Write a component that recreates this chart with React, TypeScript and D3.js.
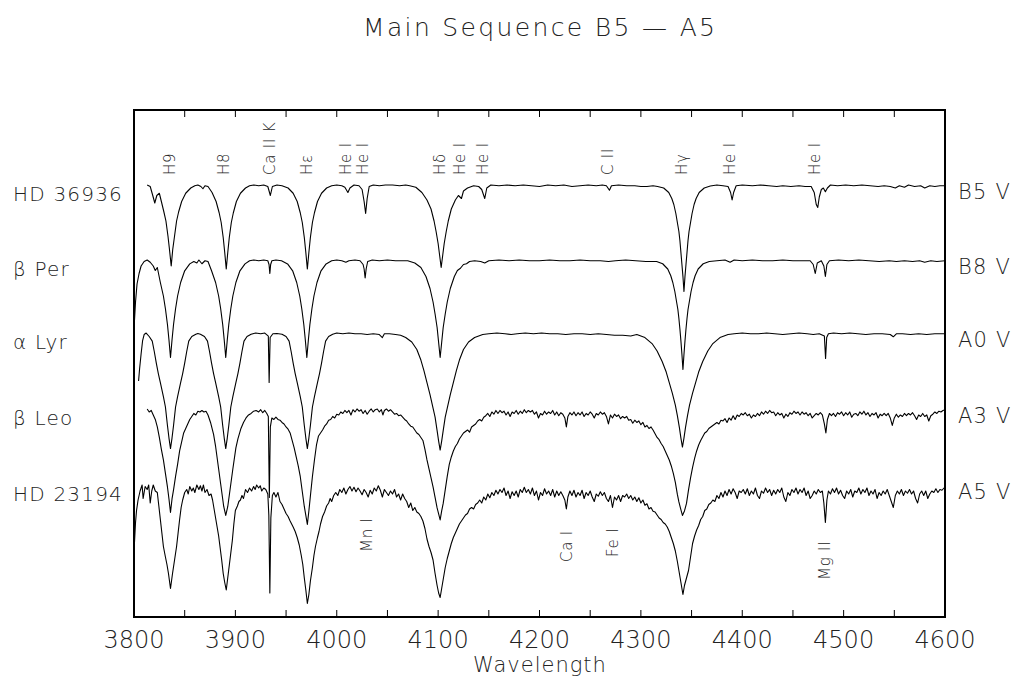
import React from "react";
import * as d3 from "d3";

// ---------- DATA ----------
const title = "Main Sequence B5 — A5";
const xLabel = "Wavelength";
const xDomain = [3800, 4600];
const majorTicks = [3800, 3900, 4000, 4100, 4200, 4300, 4400, 4500, 4600];
const minorTicks = [3850, 3900, 3950, 4000, 4050, 4100, 4150, 4200, 4250, 4300, 4350, 4400, 4450, 4500, 4550];

const starNames = ["HD 36936", "β Per", "α Lyr", "β Leo", "HD 23194"];
const spectralTypes = ["B5 V", "B8 V", "A0 V", "A3 V", "A5 V"];
// vertical offset of each normalized spectrum (flux %, continuum = 100)
const stackOffsets = [188, 138, 89.3, 38.7, -12];

const topLines = [
  { label: "H9", wl: 3835 },
  { label: "H8", wl: 3889 },
  { label: "Ca II K", wl: 3933.7 },
  { label: "Hε", wl: 3970 },
  { label: "He I", wl: 4009 },
  { label: "He I", wl: 4026 },
  { label: "Hδ", wl: 4101.7 },
  { label: "He I", wl: 4121 },
  { label: "He I", wl: 4144 },
  { label: "C II", wl: 4267 },
  { label: "Hγ", wl: 4340.5 },
  { label: "He I", wl: 4388 },
  { label: "He I", wl: 4471.5 },
];
const bottomLines = [
  { label: "Mn I", wl: 4030, base: 552 },
  { label: "Ca I", wl: 4226.7, base: 562 },
  { label: "Fe I", wl: 4271.8, base: 557 },
  { label: "Mg II", wl: 4481, base: 580 },
];

// [wavelength (Å), relative flux (%)]
const hd36936: [number, number][] = [
[3813,100],[3816,99],[3818.5,93],[3820.5,88],[3822.5,93],[3825,94.5],[3827,89],[3829.5,82],[3831.5,76],[3833.5,66],[3835,57],[3836.7,46],[3838.2,57],[3840,66],[3842,76],[3844,82],[3847,89],[3851,94.5],[3856,98],[3860,99.5],[3863,100],[3866,99],[3868,97.5],[3870,99.5],[3873,99],[3877,95],[3881,89],[3884,81.5],[3886,75],[3888,65],[3889.5,55],[3891,44],[3892.5,55],[3894,65],[3896,75],[3898,81.5],[3901,89],[3905,94.5],[3910,98],[3914,99.5],[3918,100],[3923,99.5],[3928,100],[3932,99],[3934.5,93],[3936.5,99],[3941,100],[3946,99.5],[3952,98],[3957,94.5],[3961,89],[3964,81.5],[3966,75],[3968,65],[3969.5,55],[3971,44],[3972.5,55],[3974,65],[3976,75],[3978,81.5],[3981,89],[3985,94.5],[3990,98],[3995,99.5],[4000,100],[4005,99.5],[4008,98.5],[4011,95],[4013,98],[4017,100],[4022,99.5],[4025,97],[4027,89],[4028.5,81],[4030,91],[4032,99],[4036,100],[4042,99.5],[4048,100],[4055,100],[4062,99.5],[4068,100],[4072,99.5],[4078,98.5],[4084,95],[4089,90],[4093,84],[4096,76],[4098,69],[4100,61],[4101.5,53],[4103,45],[4104.5,53],[4106,61],[4108,69],[4110,76],[4113,84],[4117,90],[4120,93],[4123,91],[4125,96],[4129,98],[4135,99.5],[4140,99],[4143,97],[4146,91],[4148,98],[4152,100],[4160,99.5],[4168,100],[4176,99.5],[4184,100],[4192,99.5],[4200,99],[4208,100],[4216,99.5],[4224,100],[4232,99],[4240,99.5],[4248,100],[4256,99.5],[4262,100],[4266,99.5],[4269,96.5],[4271,99.5],[4278,100],[4286,99.5],[4294,99.5],[4300,99],[4306,99],[4312,99.5],[4316.5,99],[4322.5,98],[4327.5,95],[4330.5,91],[4332.5,87],[4334.5,81],[4336.5,73],[4337.5,69],[4338.5,63],[4339.5,55],[4340.5,47],[4341.5,39],[4342.5,29],[4343.5,39],[4344.5,47],[4345.5,55],[4346.5,63],[4347.5,69],[4348.5,73],[4350.5,81],[4352.5,87],[4354.5,91],[4357.5,95],[4362.5,98],[4368.5,99.3],[4375,100],[4381,99.5],[4386,99],[4388.5,95],[4390,90],[4391.5,95],[4394,99.5],[4400,100],[4410,99.5],[4418,100],[4426,99.5],[4434,99],[4440,99.5],[4448,99],[4456,99.5],[4462,99],[4468,99],[4471,95],[4473,87],[4474.5,85],[4476,92],[4478,97],[4480,98],[4482,95.5],[4484,98],[4487,100],[4494,99.5],[4502,100],[4510,99.5],[4518,100],[4526,99.5],[4534,99],[4540,99.5],[4546,99],[4551,98],[4555,99.5],[4560,98.5],[4564,100],[4570,99],[4576,99.5],[4580,98],[4585,99.5],[4590,99],[4595,99.5],[4600,99.5]];

const betaPer: [number, number][] = [
[3800.5,60],[3801.5,72],[3803,84],[3805,91],[3807,96],[3810,99],[3813,100],[3816,98.5],[3819,96],[3821,93],[3823,95],[3826,85],[3829,76],[3831,67.5],[3833,57],[3834.5,46.7],[3836,35],[3837.5,46.7],[3839,57],[3841,67.5],[3843,76],[3846,85],[3850,92.8],[3855,97.4],[3859,99],[3862,98],[3864,100],[3867,97.5],[3870,99.5],[3873,99],[3876.5,92.8],[3880.5,85],[3883.5,76],[3885.5,67.5],[3887.5,57],[3889,46.7],[3890.5,35],[3892,46.7],[3893.5,57],[3895.5,67.5],[3897.5,76],[3900.5,85],[3904.5,92.8],[3909.5,97.4],[3914,99.5],[3918,100],[3923,99.5],[3928,100],[3932,99.5],[3933.2,97],[3934,91],[3934.8,97],[3936,99.5],[3940,100],[3945.5,99.5],[3951.5,97.4],[3956.5,92.8],[3960.5,85],[3963.5,76],[3965.5,67.5],[3967.5,57],[3969,46.7],[3970.5,35],[3972,46.7],[3973.5,57],[3975.5,67.5],[3977.5,76],[3980.5,85],[3984.5,92.8],[3989.5,97.4],[3995,99.5],[4000,100],[4005,99.5],[4009,98.5],[4012,99.5],[4018,100],[4023,99.5],[4026,97],[4027,94],[4028,88],[4029,94],[4030.5,99],[4035,100],[4042,99.5],[4050,100],[4058,99.5],[4066,99.5],[4070,99.5],[4077,98],[4083,95],[4088,89],[4092,81],[4095,72],[4097,64],[4099,55],[4100.5,45],[4102,35],[4103.5,45],[4105,55],[4107,64],[4109,72],[4112,81],[4116,89],[4119,93],[4122,94.5],[4125,97],[4128,97.5],[4131,99],[4136,99.5],[4142,99],[4146,98],[4150,99.5],[4160,100],[4170,99.5],[4180,100],[4190,99.5],[4200,99.5],[4210,100],[4220,99.5],[4230,99.5],[4240,100],[4250,99.5],[4260,99.5],[4268,99],[4275,99.5],[4285,100],[4295,99.5],[4305,99],[4315.5,99],[4321.5,97.5],[4326.5,94],[4329.5,89.5],[4331.5,85],[4333.5,79],[4335.5,71],[4336.5,67],[4337.5,61],[4338.5,54],[4339.5,46],[4340.5,37],[4341.5,27],[4342.5,37],[4343.5,46],[4344.5,54],[4345.5,61],[4346.5,67],[4347.5,71],[4349.5,79],[4351.5,85],[4353.5,89.5],[4356.5,94],[4361.5,97.5],[4367.5,99],[4375,99.5],[4383,100],[4388,98.5],[4392,100],[4400,99.5],[4410,100],[4420,99.5],[4430,99.5],[4440,100],[4450,99.5],[4460,99.5],[4467,99.5],[4470,97],[4472,91],[4474,98],[4478,99.5],[4480.5,96],[4482,89],[4483.5,97],[4486,99.5],[4495,100],[4505,99.5],[4515,100],[4525,99.5],[4535,99],[4545,99.5],[4552,99],[4560,99.5],[4568,99],[4575,99.5],[4580,98.5],[4586,99.5],[4592,99],[4600,99.5]];

const alphaLyr: [number, number][] = [
[3804.5,68],[3805.5,76],[3807,86],[3808.5,95],[3810,99],[3812,100],[3815,97.7],[3818,94.6],[3820,87.7],[3822,80],[3824,73],[3826,66.9],[3829,57.6],[3831,50.7],[3833,38.4],[3834.5,30],[3836,23],[3837.5,30],[3839,38.4],[3841,50.7],[3843,57.6],[3846,66.9],[3848,73],[3850,80],[3852,87.7],[3854,94.6],[3857,97.7],[3861,99.2],[3863,99.7],[3865.5,99.2],[3869.5,97.7],[3872.5,94.6],[3874.5,87.7],[3876.5,80],[3878.5,73],[3880.5,66.9],[3883.5,57.6],[3885.5,50.7],[3887.5,38.4],[3889,30],[3890.5,23],[3892,30],[3893.5,38.4],[3895.5,50.7],[3897.5,57.6],[3900.5,66.9],[3902.5,73],[3904.5,80],[3906.5,87.7],[3908.5,94.6],[3911.5,97.7],[3915.5,99.2],[3920,100],[3925,99.5],[3929,100],[3932.5,98],[3933.3,67],[3934.3,97],[3937,99.5],[3941,99.7],[3946,99.2],[3950,97.7],[3953,94.6],[3955,87.7],[3957,80],[3959,73],[3961,66.9],[3964,57.6],[3966,50.7],[3968,38.4],[3969.5,30],[3971,23],[3972.5,30],[3974,38.4],[3976,50.7],[3978,57.6],[3981,66.9],[3983,73],[3985,80],[3987,87.7],[3989,94.6],[3992,97.7],[3996,99.2],[4000,100],[4006,99.5],[4012,100],[4018,99.5],[4024,99.5],[4030,99],[4036,99.5],[4042,99],[4045,97],[4047,99.5],[4052,99.5],[4058,99],[4063,98.5],[4068,97],[4074,94],[4079,89],[4083,82],[4086,75],[4089,67],[4092,59],[4095,50],[4097,44],[4099,35],[4100.5,28],[4102,22],[4103.5,28],[4105,35],[4107,44],[4109,50],[4112,59],[4115,67],[4118,75],[4121,82],[4125,89],[4130,94],[4136,97],[4144,99],[4150,99.5],[4158,100],[4166,99.5],[4172,99],[4178,99.5],[4186,100],[4194,99.5],[4202,100],[4210,99.5],[4218,99.5],[4226,99],[4234,99.5],[4242,99.5],[4250,99],[4258,99.5],[4266,99],[4274,98.5],[4282,98.5],[4290,98],[4296,99],[4304,97],[4311,93],[4316,88],[4321,81],[4325,74],[4328,67],[4331,60],[4334,52],[4336,45],[4338,37],[4339.5,30],[4341,24],[4342.5,30],[4344,37],[4346,45],[4348,52],[4351,60],[4354,67],[4357,74],[4361,81],[4366,88],[4371,93],[4378,97],[4386,99],[4392,99.5],[4400,100],[4408,99.5],[4416,99.5],[4424,100],[4432,99.5],[4440,99],[4448,99.5],[4456,100],[4464,99.5],[4470,99],[4476,99.5],[4481,98],[4482.2,83],[4483.3,97],[4485,99.5],[4490,100],[4498,99.5],[4506,100],[4514,99.5],[4522,99],[4530,99.5],[4538,99.5],[4546,99],[4549,97.5],[4552,99.5],[4558,99.5],[4566,99],[4574,99.5],[4582,99],[4590,99.5],[4600,99.5]];

const betaLeo: [number, number][] = [
[3813,100],[3815,98],[3817,99],[3819,96],[3821,93],[3823,88],[3825,81],[3827,73],[3829,66],[3831,57],[3833,48],[3834.5,40],[3836,31],[3837.5,40],[3839,46],[3841,55],[3843,63],[3845,72],[3847,78],[3849,84],[3851,87],[3853,90],[3855,93],[3857,95],[3859,97],[3861,96],[3863,98.5],[3865,98],[3867,99],[3869,98],[3871,98.5],[3873,96],[3875.5,91],[3878.5,83],[3880.5,75],[3883.5,60],[3885.5,50],[3888.5,35],[3890.5,29],[3892.5,35],[3895.5,50],[3897.5,60],[3900.5,74],[3902.5,80],[3905.5,87],[3908,91],[3910.5,94],[3913,96],[3915.5,97],[3918,98.5],[3920.5,99],[3923,98],[3925,99.5],[3927,97.5],[3929,99],[3931,97],[3932.5,95],[3933.5,41],[3934.5,88],[3936,94],[3938,93],[3940,94.5],[3942,93],[3944,92.5],[3946,91],[3948,90],[3950,88],[3952,86.5],[3954,84],[3956,79],[3958,74],[3960,68],[3962,62],[3964,55],[3966,45],[3968,35],[3969.5,29],[3971,23],[3972.5,32],[3974,42],[3976,55],[3978,66],[3980,76],[3982,82],[3984,84],[3986,86],[3988,88.5],[3990,90],[3992,92.5],[3994,93],[3996,95],[3998,94],[4000,96.5],[4002,96],[4004,98],[4006,97],[4008,99],[4010,97.5],[4012,99],[4014,96],[4016,99.5],[4018,98],[4020,100],[4022,98.5],[4024,99.5],[4026,97],[4028,99],[4030,96.5],[4032,98.5],[4034,100],[4036,98],[4038,99.5],[4040,100],[4042,98],[4044,99.5],[4045.5,96],[4047,99],[4049,100],[4051,98.5],[4053,99.5],[4055,98],[4057,96.5],[4059,97],[4061,95.5],[4063,96],[4065,94.5],[4067,93],[4069,92],[4071,90],[4073,88.5],[4075,88],[4077,86],[4079,84],[4081,83],[4083,81],[4085,79],[4087,73],[4089,66],[4091,60],[4093,54],[4095,48],[4097,41],[4099,34],[4100.5,30],[4102,26],[4103.5,32],[4105,37],[4107,46],[4109,55],[4111,63],[4113,68],[4115,72],[4117,75],[4119,77],[4121,80],[4123,82],[4125,84],[4127,85],[4129,86],[4131,84.5],[4133,88],[4135,89],[4137,90],[4139,92],[4141,93],[4143,92],[4145,94.5],[4147,95.5],[4149,97],[4151,95],[4153,98],[4155,96.5],[4157,99],[4159,97],[4161,99],[4163,97.5],[4165,98.5],[4167,96],[4169,98],[4171,95],[4173,98],[4175,97],[4177,99],[4179,96.5],[4181,98.5],[4183,97],[4185,99.5],[4187,97.5],[4189,99],[4191,98],[4193,99],[4195,96.5],[4197,98],[4199,94],[4201,97],[4203,96],[4205,98.5],[4207,96.5],[4209,98],[4211,97],[4213,99],[4215,96],[4217,98],[4219,95.5],[4221,97.5],[4223,96.5],[4225,94],[4226.5,88],[4228,95],[4230,97.5],[4232,96],[4234,98],[4236,95.5],[4238,97.5],[4240,96],[4242,98],[4244,95],[4246,97],[4248,96],[4250,98],[4252,96.5],[4254,94],[4256,97],[4258,96],[4260,98],[4262,96.5],[4264,97.5],[4266,95],[4268,90],[4270,96],[4272,94],[4274,96.5],[4276,95],[4278,96],[4280,93.5],[4282,95],[4284,94],[4286,95],[4288,92.5],[4290,93],[4292,90.5],[4294,92.5],[4296,91],[4298,92],[4300,89.5],[4302,91],[4304,88],[4306,89],[4308,87],[4310,88],[4312,86],[4314,83.5],[4316,81],[4318,79.5],[4320,77],[4322,75],[4324,72],[4326,69],[4328,66],[4330,62],[4332,57],[4334,51],[4336,43],[4337.5,38],[4339,34],[4341,29],[4343,32],[4345,37],[4347,46],[4349,54],[4351,61],[4353,67],[4355,72],[4357,76],[4359,79],[4361,81.5],[4363,84],[4365,85],[4367,87],[4369,88],[4371,89],[4373,90],[4375,91],[4377,90],[4379,92.5],[4381,92],[4383,93.5],[4385,91],[4387,94],[4389,92.5],[4391,95.5],[4393,93],[4395,96],[4397,95],[4399,97],[4401,96],[4403,97.5],[4405,95.5],[4407,96.5],[4409,94],[4411,96],[4413,95],[4415,97],[4417,95.5],[4419,98],[4421,96.5],[4423,98.5],[4425,97],[4427,99],[4429,97.5],[4431,98],[4433,95.5],[4435,97.5],[4437,96],[4439,97],[4441,94],[4443,96.5],[4445,95],[4447,97.5],[4449,96.5],[4451,98.5],[4453,97],[4455,98],[4457,96],[4459,98],[4461,96.5],[4463,97.5],[4465,95.5],[4467,97],[4469,94],[4471,95.5],[4473,97],[4475,96],[4477,97.5],[4479,96],[4481,90],[4482.5,84],[4484,93],[4486,97],[4488,95.5],[4490,97],[4492,95],[4494,97.5],[4496,96.5],[4498,98],[4500,95.5],[4502,97.5],[4504,96],[4506,98],[4508,94.5],[4510,96.5],[4512,97],[4514,95.5],[4516,98],[4518,96.5],[4520,98.5],[4522,96],[4524,97.5],[4526,95],[4528,97],[4530,96],[4532,97.5],[4534,94],[4536,96.5],[4538,95.5],[4540,97],[4542,95.5],[4544,97],[4546,94],[4548,89],[4550,94],[4552,96.5],[4554,94.5],[4556,96],[4558,95],[4560,97],[4562,95.5],[4564,97],[4566,96],[4568,97.5],[4570,95.5],[4572,93],[4574,96],[4576,95],[4578,97],[4580,95],[4582,96],[4584,92],[4586,95.5],[4588,96.5],[4590,98],[4592,97],[4594,98.5],[4596,98],[4598,99],[4600,99.5]];

const hd23194: [number, number][] = [
[3800.5,62],[3801.5,75],[3802.5,83],[3804,90],[3806,96],[3808,100],[3809,91],[3811,99],[3813,97],[3814.5,100],[3816,88],[3817.5,96],[3819,100],[3821,96],[3823,95],[3824.5,86],[3826,77],[3827.5,68],[3829,59],[3831,52],[3832.5,47],[3834,41],[3836,31],[3838,41],[3840,50],[3842,59],[3843.5,68],[3845,77],[3846.5,85],[3848,90],[3850,95],[3852,97],[3853.5,94],[3855,99],[3857,96],[3858.5,98],[3860,95],[3862,100],[3864,97],[3865.5,99.5],[3867,96],[3868.5,100],[3870,95],[3872,97],[3874,93],[3876,94],[3877.5,90],[3879,84],[3880.5,78],[3882,72],[3883.5,66],[3885,58],[3886.5,50],[3888,41],[3889.5,35],[3891,30],[3893,41],[3895,52],[3897,63],[3898.5,74],[3900,83],[3902,86],[3903.5,89],[3905,90],[3906.5,93],[3908,91],[3910,97],[3912,95],[3914,98],[3916,96],[3918,99],[3919.5,97],[3921,100],[3923,98],[3924.5,99.5],[3926,96],[3928,98],[3930,97],[3932,94],[3933,80],[3934,28],[3935,78],[3936.5,93],[3938,95],[3940,92],[3942,95],[3944,89],[3946,87],[3948,84],[3950,81],[3952,79],[3954,76],[3955.5,74],[3957,72],[3959,69],[3961,65],[3963,60],[3965,53],[3966.5,47],[3968,38],[3969.5,30],[3971,21],[3972.5,27],[3974,36],[3976,45],[3977.5,53],[3979,59],[3981,65],[3982.5,69],[3984,74],[3986,79],[3988,82],[3990,86],[3992,88],[3993.5,91],[3995,89],[3997,93],[3999,95],[4001,93],[4003,97],[4005,95],[4007,98],[4009,94],[4011,97],[4013,99],[4015,96],[4017,98.5],[4019,95.5],[4021,98],[4023,96],[4025,93.5],[4027,97],[4029,95],[4031,92],[4033,96.5],[4035,94],[4037,98],[4039,96],[4041,99.5],[4043,96.5],[4045,92],[4047,97],[4049,95],[4051,93],[4053,96],[4055,94],[4057,97],[4059,92],[4061,94],[4063,90],[4065,94],[4067,91],[4069,89],[4071,85],[4073,88],[4075,83],[4077,85],[4079,82],[4081,81],[4083,79],[4085,76],[4087,71],[4089,64],[4091,59],[4093,55],[4095,50],[4097,41],[4099,33],[4100.5,28],[4102,25],[4103.5,31],[4105,37],[4107,45],[4109,51],[4111,56],[4113,61],[4115,65],[4117,68],[4119,71],[4121,74],[4123,76],[4125,78],[4127,80],[4129,81],[4131,84],[4133,85],[4135,84],[4137,87],[4139,88],[4141,90],[4143,88],[4145,92],[4147,90],[4149,94],[4151,91.5],[4153,95],[4155,93],[4157,96.5],[4159,94],[4161,97],[4163,95],[4165,98],[4167,93],[4169,96],[4171,91],[4173,95.5],[4175,93],[4177,96],[4179,92],[4181,97],[4183,95],[4185,98.5],[4187,95],[4189,97],[4191,94],[4193,98],[4195,93],[4197,96],[4199,90],[4201,95],[4203,93],[4205,97.5],[4207,94],[4209,96],[4211,93],[4213,97],[4215,92],[4217,96],[4219,93],[4221,95.5],[4223,93],[4225,90],[4226.5,84],[4228,92],[4230,96],[4232,93],[4234,96.5],[4236,92],[4238,95],[4240,93],[4242,96.5],[4244,91],[4246,95],[4248,93],[4250,96],[4252,92],[4254,89],[4256,94],[4258,92.5],[4260,95.5],[4262,93],[4264,95],[4266,91],[4268,89],[4270,93],[4272,85],[4274,92],[4276,90],[4278,93],[4280,89],[4282,93],[4284,92],[4286,94],[4288,91],[4290,93],[4292,90],[4294,92],[4296,89],[4298,91.5],[4300,88],[4302,90],[4304,86.5],[4306,87.5],[4308,84],[4310,85],[4312,82.5],[4314,82],[4316,80],[4318,78],[4320,77],[4322,75],[4324,74],[4326,72],[4328,69],[4330,65],[4332,61],[4334,56],[4336,49],[4337.5,43],[4339,37],[4341.5,27],[4343,33],[4345,38],[4347,43],[4349,52],[4351,61],[4353,66],[4355,70],[4357,73],[4359,77],[4361,79],[4363,83],[4365,84],[4367,87],[4369,88],[4371,90],[4373,89],[4375,93],[4377,91],[4379,95],[4381,92],[4383,96],[4385,93],[4387,97],[4389,94],[4391,97.5],[4393,95],[4395,91],[4397,96],[4399,95],[4401,97],[4403,94],[4405,97.5],[4407,93],[4409,96],[4411,94],[4413,98],[4415,93],[4417,91],[4419,96],[4421,94.5],[4423,98],[4425,95],[4427,97],[4429,93],[4431,96.5],[4433,94],[4435,97],[4437,95],[4439,98],[4441,92],[4443,89],[4445,95],[4447,93],[4449,97],[4451,95],[4453,98],[4455,94],[4457,97],[4459,95],[4461,98],[4463,93],[4465,96],[4467,91],[4469,93],[4471,96],[4473,94],[4475,97],[4477,95],[4479,96],[4480.5,88],[4482,75],[4483.5,90],[4485,96],[4487,94],[4489,97.5],[4491,95],[4493,98],[4495,94],[4497,96.5],[4499,93],[4501,91],[4503,96],[4505,94],[4507,97],[4509,92],[4511,96],[4513,95],[4515,98],[4517,94],[4519,97],[4521,95],[4523,98],[4525,93],[4527,96],[4529,94],[4531,97],[4533,91],[4535,95],[4537,93],[4539,96],[4541,94],[4543,97],[4545,93],[4547,89],[4549,85],[4551,93],[4553,96],[4555,94],[4557,97],[4559,93],[4561,96],[4563,94.5],[4565,97],[4567,94],[4569,96],[4571,91],[4573,88],[4575,94],[4577,96],[4579,93],[4581,96],[4583,91],[4585,94],[4587,96],[4589,95],[4591,97.5],[4593,95],[4595,97],[4597,96.5],[4599,98],[4600,98]];

const spectra = [hd36936, betaPer, alphaLyr, betaLeo, hd23194];

// ---------- LAYOUT ----------
const W = 1020, H = 687;
const left = 134, right = 945, top = 110, bottom = 617;
const FONT = "'DejaVu Sans', 'Liberation Sans', sans-serif";
const INK = "#222";
const WEIGHT = 200;

export default function App() {
  const x = d3.scaleLinear().domain(xDomain).range([left, right]);
  const y = d3.scaleLinear().domain([0, 338]).range([bottom, top]);
  const paths = spectra.map((s, i) =>
    d3.line<[number, number]>()
      .x((d) => x(d[0]))
      .y((d) => y(d[1] + stackOffsets[i]))(s) || ""
  );
  const nameBaselines = stackOffsets.map((o) => y(100 + o) + 16);

  return (
    <svg width={W} height={H} style={{ position: "absolute", left: 0, top: 0, background: "#fff" }}
      fontFamily={FONT} fontWeight={WEIGHT}>
      <rect x={0} y={0} width={W} height={H} fill="#fff" />
      <text x={539} y={36} textAnchor="middle" fontSize={25} fill={INK}
        textLength={352} lengthAdjust="spacing">{title}</text>

      {paths.map((p, i) => (
        <path key={i} d={p} fill="none" stroke="#000" strokeWidth={1.1} strokeLinejoin="round" />
      ))}

      <rect x={left} y={top} width={right - left} height={bottom - top} fill="none" stroke="#000" strokeWidth={2} />
      {minorTicks.map((t) => (
        <g key={t}>
          <line x1={x(t)} x2={x(t)} y1={bottom} y2={bottom - 7} stroke="#000" strokeWidth={1} />
          <line x1={x(t)} x2={x(t)} y1={top} y2={top + 7} stroke="#000" strokeWidth={1} />
        </g>
      ))}
      {majorTicks.map((t) => (
        <text key={t} x={x(t)} y={648} textAnchor="middle" fontSize={24} fill={INK}>{t}</text>
      ))}
      <text x={540} y={672} textAnchor="middle" fontSize={21} fill={INK} letterSpacing={1}>{xLabel}</text>

      {starNames.map((n, i) => (
        <text key={n} x={13} y={nameBaselines[i]} fontSize={20} fill={INK} letterSpacing={1.2}>{n}</text>
      ))}
      {spectralTypes.map((n, i) => (
        <text key={n} x={958} y={nameBaselines[i] - 2} fontSize={21} fill={INK} letterSpacing={1.2}>{n}</text>
      ))}

      {topLines.map((l, i) => (
        <text key={i} transform={`translate(${x(l.wl)},175) rotate(-90)`} dy="0.35em" fontSize={15}
          fill={INK} letterSpacing={0.8}>{l.label}</text>
      ))}
      {bottomLines.map((l, i) => (
        <text key={i} transform={`translate(${x(l.wl)},${l.base}) rotate(-90)`} dy="0.35em" fontSize={15}
          fill={INK} letterSpacing={0.8}>{l.label}</text>
      ))}
    </svg>
  );
}
